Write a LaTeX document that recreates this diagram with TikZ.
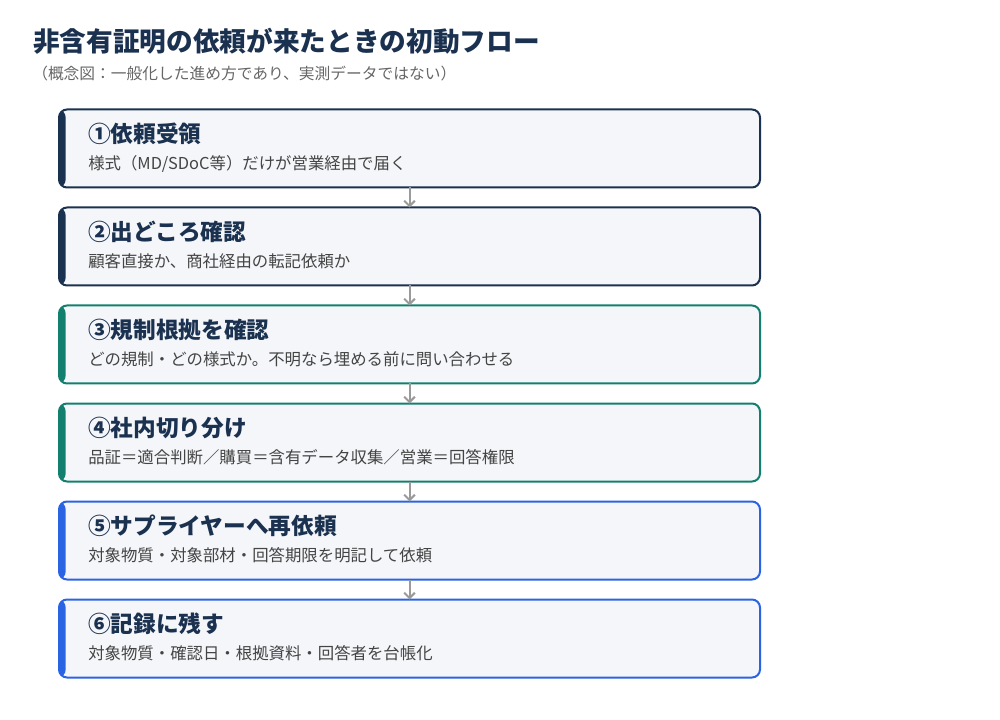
\documentclass[tikz,border=0pt]{standalone}
\usepackage{fontspec}
\setmainfont{Noto Sans CJK JP}
\usepackage{xcolor}
\usetikzlibrary{positioning,calc,arrows.meta}
\definecolor{navy}{HTML}{1B3150}
\definecolor{teal}{HTML}{137F6E}
\definecolor{brightblue}{HTML}{2B64E3}
\definecolor{boxfill}{HTML}{F4F6F9}
\definecolor{bodygray}{HTML}{444444}
\definecolor{subgray}{HTML}{666666}
\definecolor{arrowgray}{HTML}{9A9A9A}
\begin{document}
\begin{tikzpicture}[x=0.75pt, y=-0.75pt,
		stepbox/.style={draw=#1, line width=1.5pt, fill=boxfill, rounded corners=6pt,
			minimum width=525.75pt, minimum height=58.5pt, inner sep=0pt, outer sep=0pt,
			path picture={\fill[#1] (path picture bounding box.south west) rectangle ([xshift=5pt]path picture bounding box.north west);}},
		head/.style={anchor=west, inner sep=0pt, font=\fontsize{17}{20}\selectfont\bfseries, text=navy},
		body/.style={anchor=west, inner sep=0pt, font=\fontsize{12.3}{15}\selectfont, text=bodygray},
		flow/.style={draw=arrowgray, line width=1.5pt, -{Straight Barb[length=4pt,width=8pt]}}]
				\useasboundingbox (0,0) rectangle (1000,720);
				% title
				\node [anchor=west, inner sep=0pt, font=\fontsize{20}{24}\selectfont\bfseries, text=navy] (title) at (33,41) {非含有証明の依頼が来たときの初動フロー};
				\node [anchor=west, inner sep=0pt, font=\fontsize{11.8}{14}\selectfont, text=subgray] (subtitle) at (32,74) {（概念図：一般化した進め方であり、実測データではない）};
				% steps
				\node [stepbox=navy] (box1) at (409.5,148.5) {};
				\node [stepbox=navy] (box2) at (409.5,246.5) {};
				\node [stepbox=teal] (box3) at (409.5,344.5) {};
				\node [stepbox=teal] (box4) at (409.5,442.5) {};
				\node [stepbox=brightblue] (box5) at (409.5,540.5) {};
				\node [stepbox=brightblue] (box6) at (409.5,638.5) {};
				\node [head] (h1) at ($(box1.west)+(29,-15)$) {①依頼受領};
				\node [body] (b1) at ($(box1.west)+(29,15)$) {様式（MD/SDoC等）だけが営業経由で届く};
				\node [head] (h2) at ($(box2.west)+(29,-15)$) {②出どころ確認};
				\node [body] (b2) at ($(box2.west)+(29,15)$) {顧客直接か、商社経由の転記依頼か};
				\node [head] (h3) at ($(box3.west)+(29,-15)$) {③規制根拠を確認};
				\node [body] (b3) at ($(box3.west)+(29,15)$) {どの規制・どの様式か。不明なら埋める前に問い合わせる};
				\node [head] (h4) at ($(box4.west)+(29,-15)$) {④社内切り分け};
				\node [body] (b4) at ($(box4.west)+(29,15)$) {品証＝適合判断／購買＝含有データ収集／営業＝回答権限};
				\node [head] (h5) at ($(box5.west)+(29,-15)$) {⑤サプライヤーへ再依頼};
				\node [body] (b5) at ($(box5.west)+(29,15)$) {対象物質・対象部材・回答期限を明記して依頼};
				\node [head] (h6) at ($(box6.west)+(29,-15)$) {⑥記録に残す};
				\node [body] (b6) at ($(box6.west)+(29,15)$) {対象物質・確認日・根拠資料・回答者を台帳化};
				% arrows
				\draw [flow] (box1.south) -- (box2.north);
				\draw [flow] (box2.south) -- (box3.north);
				\draw [flow] (box3.south) -- (box4.north);
				\draw [flow] (box4.south) -- (box5.north);
				\draw [flow] (box5.south) -- (box6.north);
			\end{tikzpicture}
\end{document}
